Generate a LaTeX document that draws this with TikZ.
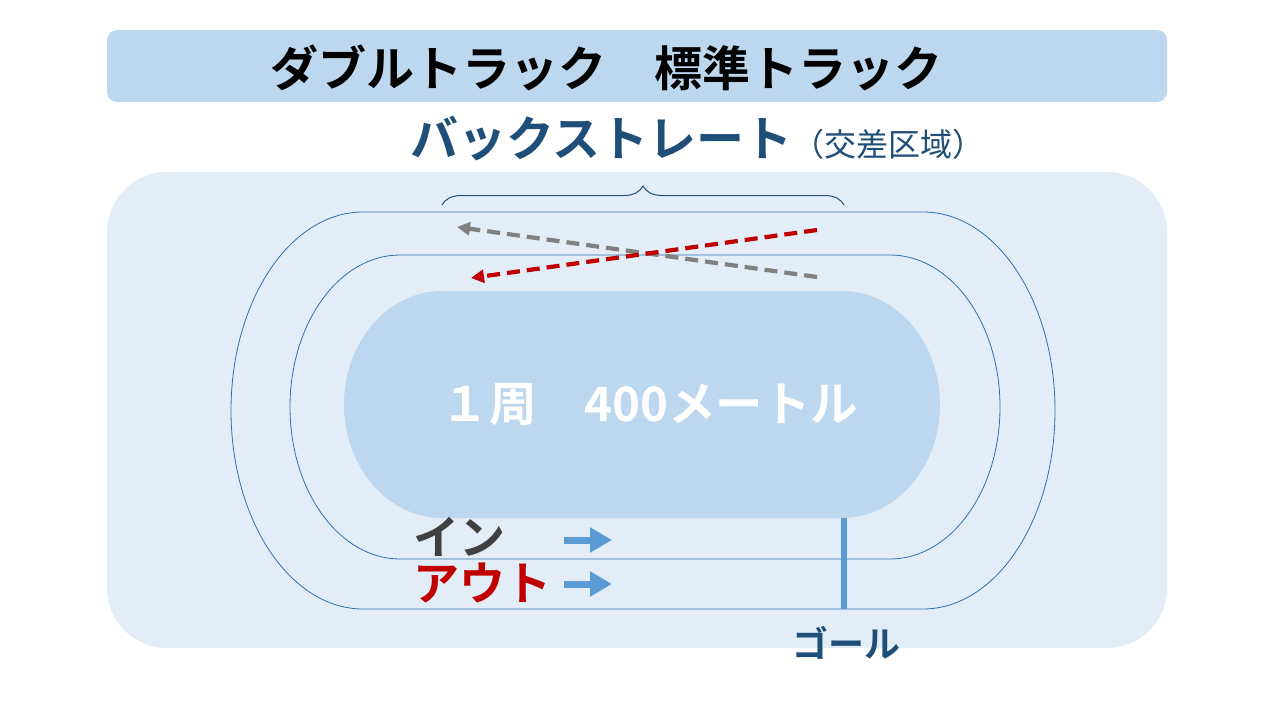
\documentclass[tikz,border=0pt]{standalone}
\definecolor{fieldblue}{RGB}{189,215,238}
\definecolor{paleblue}{RGB}{226,237,248}
\definecolor{laneblue}{RGB}{46,110,175}
\definecolor{navyblue}{RGB}{31,78,121}
\definecolor{arrowblue}{RGB}{91,155,213}
\definecolor{outred}{RGB}{192,0,0}
\definecolor{ingray}{RGB}{64,64,64}
\usepackage{fontspec}
\setmainfont{Noto Sans CJK JP}[BoldFont={Noto Sans CJK JP Bold}]
\usepackage{tikz}
\usetikzlibrary{arrows.meta,positioning,calc,decorations.pathreplacing}

\begin{document}
\begin{tikzpicture}[x=1pt,y=-1pt,
    lane/.style={draw=laneblue, line width=0.8pt},
    crossarrow/.style={line width=4.2pt, dash pattern=on 13pt off 7pt, -{Triangle[length=13pt,width=13pt]}},
    dirarrow/.style={arrowblue, line width=7pt, -{Triangle[length=22pt,width=24pt]}},
    bigtxt/.style={font=\fontsize{46}{50}\selectfont\bfseries, inner sep=0pt}]
    \useasboundingbox (0,0) rectangle (1280,720);
    % title bar
    \fill[fieldblue, rounded corners=10pt] (107,30) rectangle (1167,102);
    \node[bigtxt, font=\fontsize{48}{52}\selectfont\bfseries] (title) at (606,68) {ダブルトラック\quad 標準トラック};
    % ground
    \fill[paleblue, rounded corners=60pt] (107,172) rectangle (1167,648);
    \node[inner sep=0pt, anchor=base west, text=navyblue] (backstr) at (410,156)
        {{\fontsize{48}{52}\selectfont\bfseries バックストレート}{\fontsize{32}{36}\selectfont（交差区域）}};
    \draw[navyblue, line width=1pt, decorate, decoration={brace, amplitude=19pt}] (442,205) -- (844,205);
    % lanes
    \draw[lane] (363,212) -- (923,212) arc[start angle=-90, end angle=90, x radius=132, y radius=198.5]
        -- (363,609) arc[start angle=90, end angle=270, x radius=132, y radius=198.5] -- cycle;
    \draw[lane] (400,255) -- (890,255) arc[start angle=-90, end angle=90, x radius=110, y radius=152]
        -- (400,559) arc[start angle=90, end angle=270, x radius=110, y radius=152] -- cycle;
    % infield
    \fill[fieldblue] (442,291) -- (842,291) arc[start angle=-90, end angle=90, x radius=98, y radius=113.5]
        -- (442,518) arc[start angle=90, end angle=270, x radius=98, y radius=113.5] -- cycle;
    \node[bigtxt, font=\fontsize{47.5}{52}\selectfont\bfseries, text=white] (lap) at (650,405) {１周\quad 400メートル};
    % crossing
    \coordinate (g1) at (817,277);
    \coordinate (g2) at (457,227);
    \coordinate (r1) at (817,230);
    \coordinate (r2) at (471,278);
    \draw[crossarrow, gray] (g1) -- (g2);
    \draw[crossarrow, outred] (r1) -- (r2);
    % in / out
    \node[bigtxt, anchor=west, text=ingray] (inlane) at (413,537) {イン};
    \node[bigtxt, anchor=west, text=outred] (outlane) at (413,583) {アウト};
    \coordinate (ia) at (564,540);
    \coordinate (ib) at (612,540);
    \coordinate (oa) at (564,584);
    \coordinate (ob) at (612,584);
    \draw[dirarrow] (ia) -- (ib);
    \draw[dirarrow] (oa) -- (ob);
    % goal
    \coordinate (gtop) at (844,518);
    \coordinate (gbot) at (844,609);
    \draw[arrowblue, line width=6pt] (gtop) -- (gbot);
    \node[inner sep=0pt, text=navyblue, font=\fontsize{36}{40}\selectfont\bfseries] (goal) at (846,643) {ゴール};
\end{tikzpicture}
\end{document}
